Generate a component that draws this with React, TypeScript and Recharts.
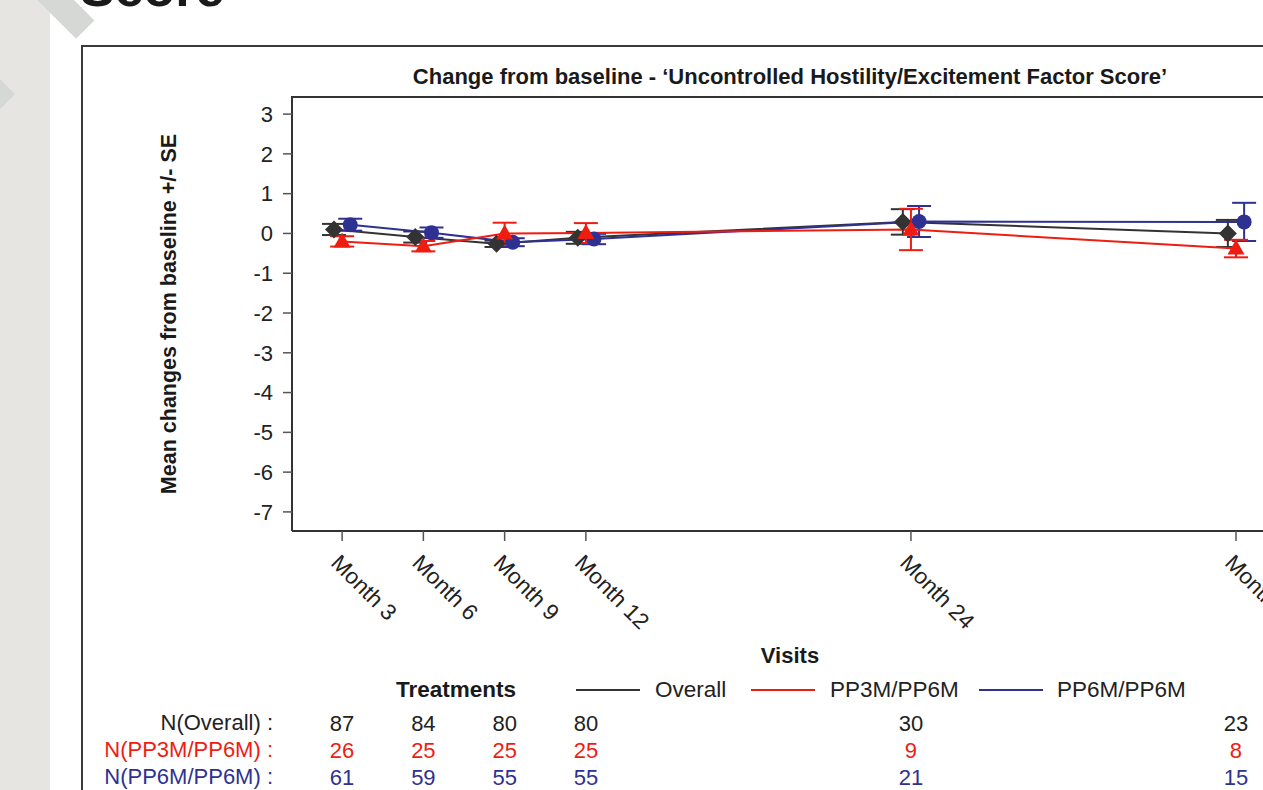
import React from 'react';
import { LineChart, Line, XAxis, YAxis, ErrorBar } from 'recharts';

// ---------- data ----------
const months = [3, 6, 9, 12, 24, 36];
const monthLabels = ['Month 3', 'Month 6', 'Month 9', 'Month 12', 'Month 24', 'Month 36'];
const yTicks = [-7, -6, -5, -4, -3, -2, -1, 0, 1, 2, 3];

const overallMean = [0.1, -0.09, -0.26, -0.11, 0.29, 0.0];
const overallSE = [0.14, 0.14, 0.08, 0.15, 0.32, 0.34];
const pp3Mean = [-0.2, -0.32, 0.0, 0.01, 0.1, -0.38];
const pp3SE = [0.13, 0.13, 0.27, 0.25, 0.52, 0.22];
const pp6Mean = [0.22, 0.02, -0.22, -0.14, 0.3, 0.29];
const pp6SE = [0.15, 0.13, 0.1, 0.13, 0.39, 0.48];

const nOverall = [87, 84, 80, 80, 30, 23];
const nPP3 = [26, 25, 25, 25, 9, 8];
const nPP6 = [61, 59, 55, 55, 21, 15];

// ---------- style ----------
const C_BLACK = '#333333';
const C_RED = '#ee1d12';
const C_BLUE = '#2e3192';
const FONT = '"Liberation Sans", Arial, Helvetica, sans-serif';
const FS = 21.5;
const FS_TICK = 22.5;
const FS_LEG = 22.5;
const DODGE = 0.3; // horizontal dodge (in months) between groups

const build = (mean: number[], se: number[], shift: number) =>
  months.map((m, i) => ({ x: m + shift, y: mean[i], se: se[i] }));

const overallData = build(overallMean, overallSE, -DODGE);
const pp3Data = build(pp3Mean, pp3SE, 0);
const pp6Data = build(pp6Mean, pp6SE, DODGE);

const CHART_W = 1500;
const CHART_H = 800;
const PLOT_L = 292;
const PLOT_T = 97;
const PLOT_R = 1288;
const PLOT_B = 531;
const Y_AXIS_W = 80;
const MAIN_X_H = 179;
const N_X_H = 27;

const xDomain = [1.15, 37.92];
const yDomain = [-7.48, 3.43];

const diamondDot = (p: any) => {
  const { cx, cy, index } = p;
  if (cx == null || cy == null) return <g key={'d' + index} />;
  return (
    <path
      key={'d' + index}
      d={`M${cx},${cy - 9}L${cx + 9},${cy}L${cx},${cy + 9}L${cx - 9},${cy}Z`}
      fill={C_BLACK}
    />
  );
};
const triangleDot = (p: any) => {
  const { cx, cy, index } = p;
  if (cx == null || cy == null) return <g key={'t' + index} />;
  return (
    <path
      key={'t' + index}
      d={`M${cx},${cy - 9}L${cx + 8.5},${cy + 6}L${cx - 8.5},${cy + 6}Z`}
      fill={C_RED}
    />
  );
};
const circleDot = (p: any) => {
  const { cx, cy, index } = p;
  if (cx == null || cy == null) return <g key={'c' + index} />;
  return <circle key={'c' + index} cx={cx} cy={cy} r={7.5} fill={C_BLUE} />;
};

const monthTick = (props: any) => {
  const { x, y, index } = props;
  return (
    <text
      transform={`translate(${x - 7},${y + 16}) rotate(45)`}
      textAnchor="start"
      dominantBaseline="central"
      fontSize={FS_TICK}
      fontFamily={FONT}
      fill="#222"
    >
      {monthLabels[index]}
    </text>
  );
};

const nTick = (values: number[], color: string) => (props: any) => {
  const { x, y, index } = props;
  return (
    <text
      x={x}
      y={y + 13}
      textAnchor="middle"
      dominantBaseline="central"
      fontSize={22}
      fontFamily={FONT}
      fill={color}
    >
      {values[index]}
    </text>
  );
};

const abs = (o: React.CSSProperties): React.CSSProperties => ({ position: 'absolute', ...o });

const txt = (
  s: string,
  left: number,
  cy: number,
  color: string,
  extra: React.CSSProperties = {}
) => (
  <div
    style={abs({
      left,
      top: cy - 13,
      height: 26,
      lineHeight: '26px',
      fontSize: FS,
      fontFamily: FONT,
      color,
      whiteSpace: 'nowrap',
      ...extra,
    })}
  >
    {s}
  </div>
);

export default function App() {
  return (
    <div
      style={abs({
        left: 0,
        top: 0,
        width: 1263,
        height: 790,
        overflow: 'hidden',
        background: '#ffffff',
        fontFamily: FONT,
      })}
    >
      {/* left grey panel and decorations */}
      <div style={abs({ left: 0, top: 0, width: 50, height: 790, background: '#e6e5e1' })} />
      <div
        style={abs({
          left: 52,
          top: -22,
          width: 60,
          height: 26,
          background: '#d6d8d6',
          transform: 'rotate(45deg)',
          transformOrigin: 'left top',
        })}
      />
      <div
        style={abs({
          left: -14,
          top: 82,
          width: 24,
          height: 24,
          background: '#d6d8d6',
          transform: 'rotate(45deg)',
        })}
      />
      <div
        style={abs({
          left: 80,
          top: -38,
          fontSize: 52,
          lineHeight: '52px',
          fontWeight: 'bold',
          color: '#1a1a1a',
          whiteSpace: 'nowrap',
        })}
      >
        Score
      </div>

      {/* outer frame */}
      <div
        style={abs({
          left: 81,
          top: 45,
          width: 1400,
          height: 900,
          border: '2px solid #3a3a3a',
          boxSizing: 'border-box',
        })}
      />

      {/* title */}
      <div
        style={abs({
          left: 290,
          width: 1000,
          top: 64,
          height: 26,
          lineHeight: '26px',
          textAlign: 'center',
          fontSize: 22,
          fontWeight: 'bold',
          color: '#1a1a1a',
        })}
      >
        Change from baseline - ‘Uncontrolled Hostility/Excitement Factor Score’
      </div>

      {/* y axis title */}
      <div
        style={abs({
          left: 169,
          top: 314,
          transform: 'translate(-50%, -50%) rotate(-90deg)',
          whiteSpace: 'nowrap',
          fontSize: FS,
          fontWeight: 'bold',
          color: '#1a1a1a',
        })}
      >
        Mean changes from baseline +/- SE
      </div>

      <div style={abs({ left: 0, top: 0 })}>
        <LineChart
          width={CHART_W}
          height={CHART_H}
          margin={{
            top: PLOT_T,
            left: PLOT_L - Y_AXIS_W,
            right: CHART_W - PLOT_R,
            bottom: CHART_H - PLOT_B - MAIN_X_H - 3 * N_X_H,
          }}
        >
          <XAxis
            xAxisId={0}
            type="number"
            dataKey="x"
            domain={xDomain}
            ticks={months}
            interval={0}
            allowDataOverflow
            height={MAIN_X_H}
            tickSize={10}
            tickMargin={2}
            tick={monthTick}
            axisLine={{ stroke: C_BLACK, strokeWidth: 2 }}
            tickLine={{ stroke: '#555', strokeWidth: 1.5 }}
          />
          <XAxis
            xAxisId="n1"
            type="number"
            dataKey="x"
            domain={xDomain}
            ticks={months}
            interval={0}
            allowDataOverflow
            height={N_X_H}
            tickSize={0}
            tickMargin={0}
            axisLine={false}
            tickLine={false}
            tick={nTick(nOverall, '#222')}
          />
          <XAxis
            xAxisId="n2"
            type="number"
            dataKey="x"
            domain={xDomain}
            ticks={months}
            interval={0}
            allowDataOverflow
            height={N_X_H}
            tickSize={0}
            tickMargin={0}
            axisLine={false}
            tickLine={false}
            tick={nTick(nPP3, C_RED)}
          />
          <XAxis
            xAxisId="n3"
            type="number"
            dataKey="x"
            domain={xDomain}
            ticks={months}
            interval={0}
            allowDataOverflow
            height={N_X_H}
            tickSize={0}
            tickMargin={0}
            axisLine={false}
            tickLine={false}
            tick={nTick(nPP6, C_BLUE)}
          />
          <YAxis
            type="number"
            domain={yDomain}
            ticks={yTicks}
            interval={0}
            allowDataOverflow
            width={Y_AXIS_W}
            tickSize={9}
            tickMargin={10}
            axisLine={{ stroke: C_BLACK, strokeWidth: 2 }}
            tickLine={{ stroke: '#555', strokeWidth: 1.5 }}
            tick={{ fontSize: 22, fontFamily: FONT, fill: '#222' }}
          />
          <Line
            data={overallData}
            dataKey="y"
            stroke={C_BLACK}
            strokeWidth={2}
            dot={diamondDot}
            activeDot={false}
            isAnimationActive={false}
          >
            <ErrorBar dataKey="se" width={12} stroke={C_BLACK} strokeWidth={2} direction="y" isAnimationActive={false} />
          </Line>
          <Line
            data={pp6Data}
            dataKey="y"
            stroke={C_BLUE}
            strokeWidth={2}
            dot={circleDot}
            activeDot={false}
            isAnimationActive={false}
          >
            <ErrorBar dataKey="se" width={12} stroke={C_BLUE} strokeWidth={2} direction="y" isAnimationActive={false} />
          </Line>
          <Line
            data={pp3Data}
            dataKey="y"
            stroke={C_RED}
            strokeWidth={2}
            dot={triangleDot}
            activeDot={false}
            isAnimationActive={false}
          >
            <ErrorBar dataKey="se" width={12} stroke={C_RED} strokeWidth={2} direction="y" isAnimationActive={false} />
          </Line>
        </LineChart>
      </div>

      {/* top border of plot */}
      <div style={abs({ left: PLOT_L - 1, top: PLOT_T - 1, width: PLOT_R - PLOT_L + 2, height: 2, background: C_BLACK })} />

      {/* x axis title */}
      <div
        style={abs({
          left: 690,
          width: 200,
          top: 643,
          height: 26,
          lineHeight: '26px',
          textAlign: 'center',
          fontSize: 22,
          fontWeight: 'bold',
          color: '#1a1a1a',
        })}
      >
        Visits
      </div>

      {/* legend */}
      {txt('Treatments', 396, 690, '#1a1a1a', { fontWeight: 'bold', fontSize: FS_LEG })}
      <div style={abs({ left: 576, top: 689, width: 64, height: 2, background: C_BLACK })} />
      {txt('Overall', 655, 690, '#222', { fontSize: FS_LEG })}
      <div style={abs({ left: 751, top: 689, width: 64, height: 2, background: C_RED })} />
      {txt('PP3M/PP6M', 830, 690, '#222', { fontSize: FS_LEG })}
      <div style={abs({ left: 979, top: 689, width: 64, height: 2, background: C_BLUE })} />
      {txt('PP6M/PP6M', 1057, 690, '#222', { fontSize: FS_LEG })}

      {/* N table row labels */}
      {txt('N(Overall) :', 0, 723, '#222', { width: 273, textAlign: 'right', fontSize: 22 })}
      {txt('N(PP3M/PP6M) :', 0, 750, C_RED, { width: 273, textAlign: 'right', fontSize: 22 })}
      {txt('N(PP6M/PP6M) :', 0, 777, C_BLUE, { width: 273, textAlign: 'right', fontSize: 22 })}
    </div>
  );
}
